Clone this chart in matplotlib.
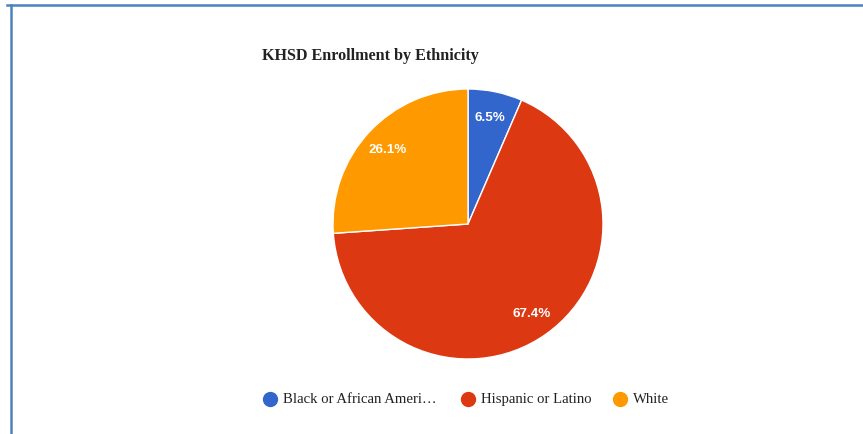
import matplotlib
matplotlib.use("Agg")
import matplotlib.pyplot as plt
from matplotlib.lines import Line2D

# data
labels = ["Black or African American", "Hispanic or Latino", "White"]
legend_labels = ["Black or African Ameri\u2026", "Hispanic or Latino", "White"]
shares = [6.5, 67.4, 26.1]
colors = ["#3366cc", "#dc3912", "#ff9900"]
title = "KHSD Enrollment by Ethnicity"

W, H = 863, 435
fig = plt.figure(figsize=(W / 100, H / 100), dpi=100)
fig.patch.set_facecolor("white")

# pie centred at (468, 225) px, radius 135 px
cx, cy, r = 468, 225, 135
ax = fig.add_axes([(cx - r) / W, (H - cy - r) / H, 2 * r / W, 2 * r / H])
wedges, texts, autotexts = ax.pie(
    shares, colors=colors, startangle=90, counterclock=False,
    autopct="%.1f%%", pctdistance=0.81, radius=1,
    wedgeprops=dict(edgecolor="white", linewidth=1))
for t in autotexts:
    t.set_color("white")
    t.set_fontsize(9.6)
    t.set_family("Liberation Sans")
    t.set_fontweight("bold")
ax.set_xlim(-1, 1)
ax.set_ylim(-1, 1)
ax.set_aspect("equal")
ax.axis("off")

# title
fig.text(262 / W, 1 - 56 / H, title, family="Liberation Serif", fontweight="bold",
         fontsize=11.6, color="#222222", ha="left", va="center")

# legend
leg_x = [270, 468, 620]
leg_y = 400
for x, lab, c in zip(leg_x, legend_labels, colors):
    fig.add_artist(Line2D([x / W], [1 - leg_y / H], marker="o", markersize=10,
                          color=c, linestyle="none", transform=fig.transFigure))
    fig.text((x + 13) / W, 1 - leg_y / H, lab, family="Liberation Serif",
             fontsize=10.6, color="#222222", ha="left", va="center")

# frame border (top and left)
bc = "#4f81bd"
fig.add_artist(Line2D([7 / W, 1], [1 - 6 / H, 1 - 6 / H], color=bc, linewidth=1.8,
                      transform=fig.transFigure))
fig.add_artist(Line2D([11 / W, 11 / W], [1 - 6 / H, 0], color=bc, linewidth=1.8,
                      transform=fig.transFigure))

fig.savefig("out.png", dpi=100)
